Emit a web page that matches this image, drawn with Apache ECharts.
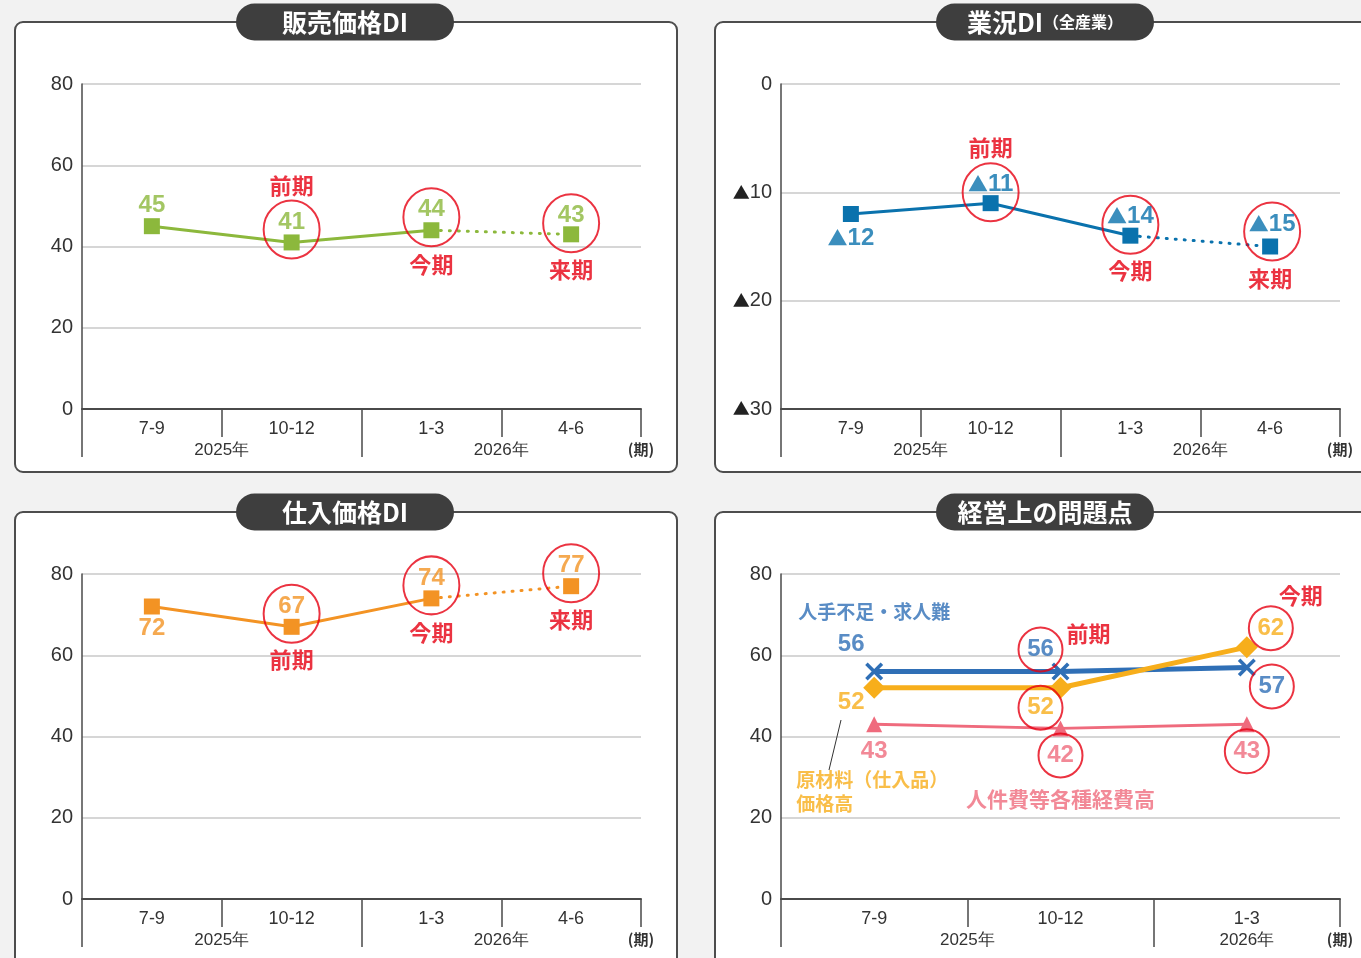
<!DOCTYPE html>
<html><head><meta charset="utf-8">
<script src="https://cdn.jsdelivr.net/npm/echarts@6/dist/echarts.min.js"></script>
<style>html,body{margin:0;padding:0;background:#f2f2f2;}#c{width:1361px;height:958px;}</style>
</head><body><div id="c"></div><script>
// ---- data ----
const quarters = ['7-9', '10-12', '1-3', '4-6'];
const quartersIssue = ['7-9', '10-12', '1-3'];
const years = ['2025年', '2026年'];
const periodUnit = '(期)';
const salesPriceDI = [45, 41, 44, 43];
const businessDI = [-12, -11, -14, -15];
const purchasePriceDI = [72, 67, 74, 77];
const laborShortage = [56, 56, 57];
const materialCost = [52, 52, 62];
const laborCost = [43, 42, 43];
const periodTags = ['前期', '今期', '来期'];
const issueNames = ['人手不足・求人難', '原材料（仕入品）\n価格高', '人件費等各種経費高'];
const panelTitles = ['販売価格DI', '業況DI', '仕入価格DI', '経営上の問題点'];
const titleSuffix = '（全産業）';

// ---- styles ----
const NUM = '"Liberation Sans Narrow","Liberation Sans",Arial,sans-serif';
const JP = '"Noto Sans CJK JP","Noto Sans",sans-serif';
const RED = '#e60012';
const GREEN = '#8cb83c', BLUE = '#0a72ad', ORANGE = '#f39324';
const C_BLUE = '#2f6fb6', C_ORANGE = '#f7ae1b', C_PINK = '#ef6b7d';
const AX = '#4a4a4a';
const grids = [
  {left: 82, top: 84, width: 559, height: 325},
  {left: 781, top: 84, width: 559, height: 325},
  {left: 82, top: 574, width: 559, height: 325},
  {left: 781, top: 574, width: 559, height: 325}
];
// negative values are written with a leading ▲
const negFmt = v => v < 0 ? '{t|▲}' + Math.abs(v) : String(v);

function xAxes(g, cats, yearTicks, yearLabels) {
  const n = cats.length;
  return [
    {gridIndex: g, type: 'category', data: cats, boundaryGap: true, position: 'bottom',
     axisLine: {onZero: false, lineStyle: {color: AX, width: 2}},
     axisTick: {show: true, interval: 0, length: 28, lineStyle: {color: AX, width: 1.5}},
     axisLabel: {interval: 0, margin: 11, fontSize: 18, color: '#333', fontFamily: NUM},
     splitLine: {show: false}},
    {gridIndex: g, type: 'value', min: 0, max: n, position: 'bottom', offset: 0,
     axisLine: {show: false, onZero: false}, splitLine: {show: false},
     axisTick: {show: true, length: 48, customValues: yearTicks, lineStyle: {color: AX, width: 1.5}},
     axisLabel: {customValues: yearLabels.map(d => d[0]), margin: 33, fontSize: 17, color: '#333', fontFamily: NUM,
       formatter: v => { const f = yearLabels.find(d => Math.abs(d[0] - v) < 1e-6); if (!f) return ''; return f[1] === periodUnit ? '{p|' + f[1] + '}' : f[1]; },
       rich: {p: {fontSize: 15, fontWeight: 'bold', color: '#333', fontFamily: JP}}}}
  ];
}
function yAxis(g, min, max, interval, fmt) {
  return {gridIndex: g, type: 'value', min, max, interval,
    axisLine: {show: true, onZero: false, lineStyle: {color: AX, width: 1.5}}, axisTick: {show: false},
    axisLabel: {fontSize: 20, color: '#333', margin: 9, fontFamily: NUM, formatter: fmt || (v => String(v)),
      rich: {t: {fontSize: 17, color: '#222', fontFamily: JP}}},
    splitLine: {lineStyle: {color: '#c8c8c8', width: 1.5}}};
}
function dualLine(g, vals, color) {
  const n = vals.length;
  const solid = vals.map((v, i) => i < n - 1 ? v : '-');
  const dotted = vals.map((v, i) => i >= n - 2 ? {value: v, symbol: i === n - 1 ? 'rect' : 'none'} : '-');
  return [
    {type: 'line', xAxisIndex: 2 * g, yAxisIndex: g, data: dotted, symbol: 'rect', symbolSize: 16,
     lineStyle: {color, width: 3, type: [1, 8], cap: 'round'}, itemStyle: {color}, z: 3},
    {type: 'line', xAxisIndex: 2 * g, yAxisIndex: g, data: solid, symbol: 'rect', symbolSize: 16,
     lineStyle: {color, width: 3}, itemStyle: {color}, z: 4}
  ];
}
function valueLabels(g, vals, color, offs, fmt, size) {
  return {type: 'scatter', xAxisIndex: 2 * g, yAxisIndex: g, symbolSize: 1, itemStyle: {color: 'rgba(0,0,0,0)'}, z: 12,
    data: vals.map((v, i) => offs[i] ? {value: [i, v], label: {offset: offs[i]}} : null).filter(Boolean),
    label: {show: true, position: 'inside', color, fontSize: size || 24, fontWeight: 'bold', fontFamily: NUM,
      formatter: p => (fmt || String)(p.value[1]),
      rich: {t: {fontSize: 20, color, fontFamily: JP, fontWeight: 'bold'}}}};
}
function circles(g, vals, idxs, offs, size) {
  return {type: 'scatter', xAxisIndex: 2 * g, yAxisIndex: g, symbol: 'circle', symbolSize: size, z: 11,
    itemStyle: {color: 'rgba(0,0,0,0)', borderColor: RED, borderWidth: 2},
    data: idxs.map((i, k) => ({value: [i, vals[i]], symbolOffset: offs[k]}))};
}
function tags(g, vals, idxs, tagIdx, offs) {
  return {type: 'scatter', xAxisIndex: 2 * g, yAxisIndex: g, symbolSize: 1, itemStyle: {color: 'rgba(0,0,0,0)'}, z: 12,
    data: idxs.map((i, k) => ({value: [i, vals[i]], name: periodTags[tagIdx[k]], label: {offset: offs[k]}})),
    label: {show: true, position: 'inside', color: RED, fontSize: 22, fontWeight: 'bold', fontFamily: JP, formatter: p => p.name}};
}
function nameTag(g, vals, idx, text, color, off, align, size) {
  return {type: 'scatter', xAxisIndex: 2 * g, yAxisIndex: g, symbolSize: 1, itemStyle: {color: 'rgba(0,0,0,0)'}, z: 12,
    data: [{value: [idx, vals[idx]], name: text}],
    label: {show: true, position: 'inside', offset: off, align: align || 'center', color, fontSize: size || 19, fontWeight: 'bold',
      lineHeight: 24, fontFamily: JP, formatter: p => p.name}};
}
const crossPath = 'path://M0,1.4L1.4,0L5,3.6L8.6,0L10,1.4L6.4,5L10,8.6L8.6,10L5,6.4L1.4,10L0,8.6L3.6,5Z';

const series = [
  // panel 1
  ...dualLine(0, salesPriceDI, GREEN),
  valueLabels(0, salesPriceDI, GREEN, [[0, -21], [0, -20], [0, -21], [0, -19]]),
  circles(0, salesPriceDI, [1, 2, 3], [[0, -13], [0, -13], [0, -11]], [56, 58]),
  tags(0, salesPriceDI, [1, 2, 3], [0, 1, 2], [[0, -57], [0, 34], [0, 35]]),
  // panel 2
  ...dualLine(1, businessDI, BLUE),
  valueLabels(1, businessDI, BLUE, [[0, 24], [0, -19], [0, -19], [2, -22]], negFmt),
  circles(1, businessDI, [1, 2, 3], [[0, -11], [0, -11], [2, -15]], [56, 58]),
  tags(1, businessDI, [1, 2, 3], [0, 1, 2], [[0, -56], [0, 35], [0, 32]]),
  // panel 3
  ...dualLine(2, purchasePriceDI, ORANGE),
  valueLabels(2, purchasePriceDI, ORANGE, [[0, 22], [0, -20], [0, -20], [0, -21]]),
  circles(2, purchasePriceDI, [1, 2, 3], [[0, -13], [0, -13], [0, -13]], [56, 58]),
  tags(2, purchasePriceDI, [1, 2, 3], [0, 1, 2], [[0, 33], [0, 34], [0, 33]]),
  // panel 4
  {type: 'line', xAxisIndex: 6, yAxisIndex: 3, data: laborCost, symbol: 'triangle', symbolSize: 16,
   lineStyle: {color: C_PINK, width: 3}, itemStyle: {color: C_PINK}, z: 3},
  {type: 'line', xAxisIndex: 6, yAxisIndex: 3, data: laborShortage, symbol: crossPath, symbolSize: 18, symbolKeepAspect: true,
   lineStyle: {color: C_BLUE, width: 5}, itemStyle: {color: C_BLUE}, z: 4},
  {type: 'line', xAxisIndex: 6, yAxisIndex: 3, data: materialCost, symbol: 'diamond', symbolSize: 22,
   lineStyle: {color: C_ORANGE, width: 5}, itemStyle: {color: C_ORANGE}, z: 5},
  valueLabels(3, laborShortage, C_BLUE, [[-23, -27], [-20, -22], [25, 19]]),
  valueLabels(3, materialCost, C_ORANGE, [[-23, 15], [-20, 20], [24, -19]]),
  valueLabels(3, laborCost, C_PINK, [[0, 27], [0, 27], [0, 27]]),
  circles(3, laborShortage, [1, 2], [[-20, -22], [25, 19]], 44),
  circles(3, materialCost, [1, 2], [[-20, 20], [24, -19]], 44),
  circles(3, laborCost, [1, 2], [[0, 27], [0, 27]], 44),
  tags(3, laborShortage, [1], [0], [[28, -38]]),
  tags(3, materialCost, [2], [1], [[54, -51]]),
  nameTag(3, laborShortage, 0, issueNames[0], C_BLUE, [0, -60]),
  nameTag(3, materialCost, 0, issueNames[1], C_ORANGE, [-78, 104], 'left'),
  nameTag(3, laborCost, 1, issueNames[2], C_PINK, [0, 71], 'center', 21)
];

function box(x, y, w, h) {
  return {type: 'rect', z: -100, shape: {x, y, width: w, height: h, r: 8}, style: {fill: '#fff', stroke: '#4d4d4d', lineWidth: 2}};
}
function pill(cx, cy, text, rich) {
  return [
    {type: 'rect', z: 100, shape: {x: cx - 109, y: cy - 18.5, width: 218, height: 37, r: 18.5}, style: {fill: '#3e3e3e'}},
    {type: 'text', z: 101, x: cx, y: cy, style: {text, fill: '#fff', font: 'bold 25px ' + JP, align: 'center', verticalAlign: 'middle', rich}}
  ];
}
const graphic = [
  box(15, 22, 662, 450), box(715, 22, 700, 450), box(15, 512, 662, 500), box(715, 512, 700, 500),
  ...pill(345, 22, panelTitles[0]),
  ...pill(1045, 22, '{a|' + panelTitles[1] + '}{b|' + titleSuffix + '}', {
    a: {fill: '#fff', font: 'bold 25px ' + JP}, b: {fill: '#fff', font: 'bold 16px ' + JP}}),
  ...pill(345, 512, panelTitles[2]),
  ...pill(1045, 512, panelTitles[3]),
  {type: 'line', z: 50, shape: {x1: 841, y1: 720, x2: 829, y2: 770}, style: {stroke: '#333', lineWidth: 1}}
];

const option = {
  animation: false,
  backgroundColor: 'transparent',
  grid: grids,
  xAxis: [
    ...xAxes(0, quarters, [0, 2], [[1, years[0]], [3, years[1]], [4, periodUnit]]),
    ...xAxes(1, quarters, [0, 2], [[1, years[0]], [3, years[1]], [4, periodUnit]]),
    ...xAxes(2, quarters, [0, 2], [[1, years[0]], [3, years[1]], [4, periodUnit]]),
    ...xAxes(3, quartersIssue, [0, 2], [[1, years[0]], [2.5, years[1]], [3, periodUnit]])
  ],
  yAxis: [yAxis(0, 0, 80, 20), yAxis(1, -30, 0, 10, negFmt), yAxis(2, 0, 80, 20), yAxis(3, 0, 80, 20)],
  series,
  graphic
};
const chart = echarts.init(document.getElementById('c'), null, {renderer: 'canvas'});
chart.setOption(option);
</script></body></html>
